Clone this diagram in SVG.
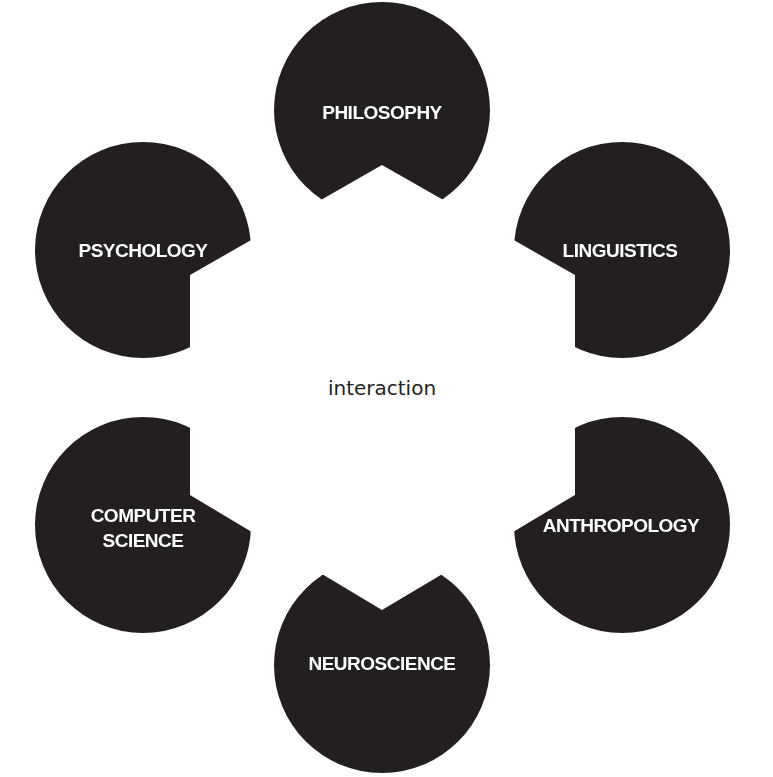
<svg xmlns="http://www.w3.org/2000/svg" width="773" height="777" viewBox="0 0 773 777">
<style>
.c{fill:#231f20}
.t{fill:#fff;font-family:"Liberation Sans",Arial,sans-serif;font-weight:bold;font-size:19px;text-anchor:middle;letter-spacing:-0.5px}
.m{fill:#231f20;font-family:"DejaVu Sans",sans-serif;font-size:20px;text-anchor:middle}
</style>
<defs>
<mask id="hx" maskUnits="userSpaceOnUse" x="0" y="0" width="773" height="777">
<rect width="773" height="777" fill="#fff"/>
<polygon points="382,165 575,275 575,495 382,610 190,495 190,275" fill="#000"/>
</mask>
</defs>
<rect width="773" height="777" fill="#fff"/>
<g mask="url(#hx)">
<g id="philosophy"><circle class="c" cx="382" cy="110" r="108"/><text class="t" x="382" y="119">PHILOSOPHY</text></g>
<g id="psychology"><circle class="c" cx="143" cy="250" r="108"/><text class="t" x="143" y="257">PSYCHOLOGY</text></g>
<g id="linguistics"><circle class="c" cx="622" cy="250" r="108"/><text class="t" x="620" y="257">LINGUISTICS</text></g>
<g id="computer-science"><circle class="c" cx="143" cy="525" r="108"/><text class="t" x="143" y="522">COMPUTER</text><text class="t" x="143" y="547">SCIENCE</text></g>
<g id="anthropology"><circle class="c" cx="622" cy="525" r="108"/><text class="t" x="621" y="532">ANTHROPOLOGY</text></g>
<g id="neuroscience"><circle class="c" cx="382" cy="665" r="108"/><text class="t" x="382" y="670">NEUROSCIENCE</text></g>
</g>
<g id="connectors"></g>
<g id="center"><text class="m" x="382" y="395">interaction</text></g>
</svg>
